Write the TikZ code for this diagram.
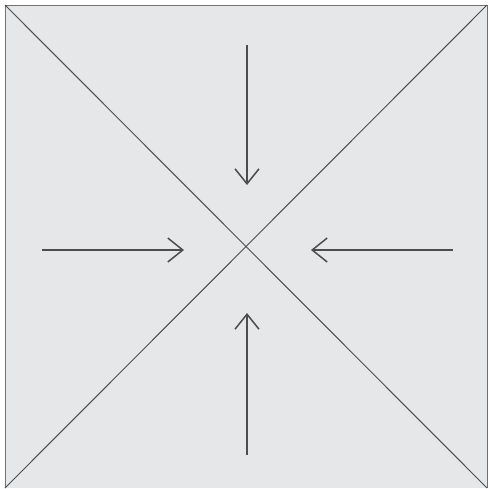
\documentclass[tikz,border=0pt]{standalone}
\usetikzlibrary{arrows.meta}
\definecolor{bgfill}{HTML}{E6E7E8}
\definecolor{ink}{HTML}{4D4D4F}
\tikzset{
  diag/.style={draw=ink, line width=1pt},
  push/.style={draw=ink, line width=1.5pt, -{Straight Barb[length=15pt,width=24pt,line width=1.5pt]}}
}
\begin{document}
\begin{tikzpicture}[x=1pt,y=-1pt]
\useasboundingbox (0,0) rectangle (489,488);
\coordinate (tl) at (5,5);
\coordinate (tr) at (487,5);
\coordinate (br) at (487,488);
\coordinate (bl) at (5,488);
\coordinate (c) at (247,250);
\fill[bgfill] (tl) rectangle (br);
\draw[draw=ink!80, line width=1pt] (bl) -- (tl) -- (tr) -- (br);
\draw[diag] (tl) -- (br);
\draw[diag] (tr) -- (bl);
\coordinate (t0) at (247,45);
\coordinate (t1) at (247,185);
\coordinate (b0) at (247,455);
\coordinate (b1) at (247,313);
\coordinate (l0) at (42,250);
\coordinate (l1) at (184,250);
\coordinate (r0) at (453,250);
\coordinate (r1) at (311,250);
\draw[push] (t0) -- (t1);
\draw[push] (b0) -- (b1);
\draw[push] (l0) -- (l1);
\draw[push] (r0) -- (r1);
\end{tikzpicture}
\end{document}
